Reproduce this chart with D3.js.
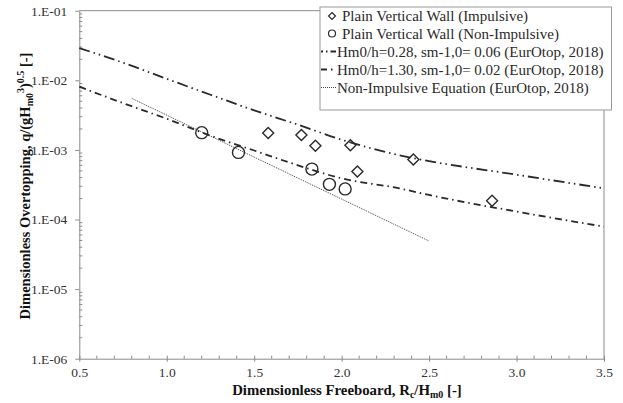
<!DOCTYPE html>
<html><head><meta charset="utf-8">
<script src="https://cdn.jsdelivr.net/npm/d3@7"></script>
<style>
html,body{margin:0;padding:0;background:#fff;}
svg text{font-family:"Liberation Serif","Times New Roman",Times,serif !important;}
</style></head>
<body>
<svg id="chart" width="623" height="403"></svg>
<script>
// ---- data ----
const impulsiveX = [1.58, 1.77, 1.85, 2.05, 2.09, 2.41, 2.86];
const impulsiveY = [1.75e-3, 1.64e-3, 1.15e-3, 1.17e-3, 4.9e-4, 7.3e-4, 1.86e-4];
const nonImpulsiveX = [1.20, 1.41, 1.83, 1.93, 2.02];
const nonImpulsiveY = [1.77e-3, 9.2e-4, 5.3e-4, 3.2e-4, 2.75e-4];
const curveLowX = [0.5, 0.75, 1.0, 1.25, 1.5, 1.75, 2.0, 2.33, 2.5, 3.0, 3.5];
const curveLowY = [8.1e-3, 4.7e-3, 2.8e-3, 1.6e-3, 9.8e-4, 6.0e-4, 3.9e-4, 2.8e-4, 2.25e-4, 1.3e-4, 7.9e-5];
const curveHighX = [0.5, 0.75, 1.0, 1.25, 1.5, 1.75, 2.0, 2.41, 2.5, 3.0, 3.5];
const curveHighY = [2.9e-2, 1.79e-2, 1.05e-2, 6.2e-3, 3.7e-3, 2.3e-3, 1.4e-3, 7.6e-4, 6.9e-4, 4.4e-4, 2.8e-4];
const dottedX = [0.8, 2.5];
const dottedY = [5.5e-3, 4.9e-5];
const xTicks = [0.5, 1.0, 1.5, 2.0, 2.5, 3.0, 3.5];
const yTicks = [1e-6, 1e-5, 1e-4, 1e-3, 1e-2, 1e-1];
const yTickLabels = ["1.E-06", "1.E-05", "1.E-04", "1.E-03", "1.E-02", "1.E-01"];
const legendLabels = [
  "Plain Vertical Wall (Impulsive)",
  "Plain Vertical Wall (Non-Impulsive)",
  "Hm0/h=0.28, sm-1,0= 0.06 (EurOtop, 2018)",
  "Hm0/h=1.30, sm-1,0= 0.02 (EurOtop, 2018)",
  "Non-Impulsive Equation (EurOtop, 2018)"
];

const svg = d3.select("#chart");
const L = 79.3, R = 604, T = 10.7, B = 358.7;
const x = d3.scaleLinear().domain([0.5, 3.5]).range([L, R]);
const y = d3.scaleLog().domain([1e-6, 1e-1]).range([B, T]);
const axisCol = "#8a8a8a";
const ink = "#2a2a2a";
const serif = '"Liberation Serif","Times New Roman",Times,serif';

// frame top & right
svg.append("line").attr("x1", L).attr("x2", R).attr("y1", T).attr("y2", T).attr("stroke", axisCol).attr("stroke-width", 1);
svg.append("line").attr("x1", R).attr("x2", R).attr("y1", T).attr("y2", B).attr("stroke", axisCol).attr("stroke-width", 1);

// x axis
const xAxis = d3.axisBottom(x).tickValues(xTicks).tickFormat(d3.format(".1f")).tickSizeInner(3).tickSizeOuter(0).tickPadding(6);
const gx = svg.append("g").attr("transform", `translate(0,${B})`).call(xAxis).attr("font-family", serif);
gx.select(".domain").attr("stroke", axisCol);
gx.selectAll(".tick line").attr("stroke", axisCol).attr("y1", -3);
gx.selectAll(".tick text").attr("font-size", 13.5).attr("fill", "#333").style("font-family", serif);
const xMinor = d3.range(6, 35).map(v => v / 10).filter(v => Math.abs(v * 2 - Math.round(v * 2)) > 1e-6);
svg.append("g").selectAll("line").data(xMinor).join("line")
  .attr("x1", d => x(d)).attr("x2", d => x(d)).attr("y1", B).attr("y2", B - 3)
  .attr("stroke", axisCol);

// y axis
const yAxis = d3.axisLeft(y).tickValues(yTicks).tickFormat((d, i) => yTickLabels[i]).tickSizeInner(4).tickSizeOuter(0).tickPadding(8);
const gy = svg.append("g").attr("transform", `translate(${L},0)`).call(yAxis).attr("font-family", serif);
gy.select(".domain").attr("stroke", axisCol);
gy.selectAll(".tick line").attr("stroke", axisCol);
gy.selectAll(".tick text").attr("font-size", 13.5).attr("fill", "#333").style("font-family", serif);
const yMinor = [];
for (let e = -6; e < -1; e++) for (let m = 2; m <= 9; m++) yMinor.push(m * Math.pow(10, e));
svg.append("g").selectAll("line").data(yMinor).join("line")
  .attr("x1", L).attr("x2", L + 3).attr("y1", d => y(d)).attr("y2", d => y(d))
  .attr("stroke", axisCol);

// curves
const line = d3.line().x(d => x(d[0])).y(d => y(d[1])).curve(d3.curveMonotoneX);
const zip = (a, b) => a.map((v, i) => [v, b[i]]);
svg.append("path").attr("d", line(zip(dottedX, dottedY))).attr("fill", "none")
  .attr("stroke", "#444").attr("stroke-width", 1).attr("stroke-dasharray", "1,1");
svg.append("path").attr("d", line(zip(curveLowX, curveLowY))).attr("fill", "none")
  .attr("stroke", ink).attr("stroke-width", 1.8).attr("stroke-dasharray", "7,4,1.5,4");
svg.append("path").attr("d", line(zip(curveHighX, curveHighY))).attr("fill", "none")
  .attr("stroke", ink).attr("stroke-width", 1.8).attr("stroke-dasharray", "11,4,1.5,4,1.5,4");

// markers
const diamond = s => `M0,${-s}L${s},0L0,${s}L${-s},0Z`;
svg.append("g").selectAll("path").data(zip(impulsiveX, impulsiveY)).join("path")
  .attr("transform", d => `translate(${x(d[0])},${y(d[1])})`)
  .attr("d", diamond(5.5)).attr("fill", "none").attr("stroke", ink).attr("stroke-width", 1.4);
svg.append("g").selectAll("circle").data(zip(nonImpulsiveX, nonImpulsiveY)).join("circle")
  .attr("cx", d => x(d[0])).attr("cy", d => y(d[1])).attr("r", 6)
  .attr("fill", "none").attr("stroke", ink).attr("stroke-width", 1.4);

// legend
const lg = svg.append("g");
lg.append("rect").attr("x", 320).attr("y", 7).attr("width", 291.5).attr("height", 103)
  .attr("fill", "#fff").attr("stroke", "#999").attr("stroke-width", 1);
const rowY = [16, 33.5, 51.5, 69.5, 87.5];
lg.append("path").attr("transform", `translate(332,${rowY[0]})`).attr("d", diamond(3.5))
  .attr("fill", "none").attr("stroke", ink).attr("stroke-width", 1.2);
lg.append("circle").attr("cx", 332).attr("cy", rowY[1]).attr("r", 3.5)
  .attr("fill", "none").attr("stroke", ink).attr("stroke-width", 1.2);
lg.append("line").attr("x1", 321).attr("x2", 336).attr("y1", rowY[2]).attr("y2", rowY[2])
  .attr("stroke", ink).attr("stroke-width", 1.8).attr("stroke-dasharray", "2,3,1.5,3,6");
lg.append("line").attr("x1", 321).attr("x2", 336).attr("y1", rowY[3]).attr("y2", rowY[3])
  .attr("stroke", ink).attr("stroke-width", 1.8).attr("stroke-dasharray", "6,4,1.5,4");
lg.append("line").attr("x1", 321).attr("x2", 336).attr("y1", rowY[4]).attr("y2", rowY[4])
  .attr("stroke", "#444").attr("stroke-width", 1).attr("stroke-dasharray", "1,1");
lg.selectAll("text").data(legendLabels).join("text")
  .attr("x", (d, i) => i < 2 ? 342 : 337).attr("y", (d, i) => rowY[i] + 5)
  .attr("font-size", 15).attr("fill", ink).style("font-family", serif).text(d => d);

// axis titles
const xt = svg.append("text").attr("x", 347).attr("y", 395).attr("text-anchor", "middle")
  .attr("font-size", 14.8).attr("font-weight", "bold").attr("fill", "#111").style("font-family", serif);
xt.append("tspan").text("Dimensionless Freeboard, R");
xt.append("tspan").attr("font-size", 10).attr("dy", 3).text("c");
xt.append("tspan").attr("dy", -3).text("/H");
xt.append("tspan").attr("font-size", 10).attr("dy", 3).text("m0");
xt.append("tspan").attr("dy", -3).text(" [-]");

const yt = svg.append("text").attr("transform", "translate(30,186) rotate(-90)").attr("text-anchor", "middle")
  .attr("font-size", 14.5).attr("font-weight", "bold").attr("fill", "#111").style("font-family", serif);
yt.append("tspan").text("Dimensionless Overtopping,  q/(gH");
yt.append("tspan").attr("font-size", 10).attr("dy", 3).text("m0");
yt.append("tspan").attr("font-size", 10).attr("dy", -9).text("3");
yt.append("tspan").attr("dy", 6).text(")");
yt.append("tspan").attr("font-size", 10).attr("dy", -6).text("0.5");
yt.append("tspan").attr("dy", 6).text(" [-]");
</script>
</body></html>
